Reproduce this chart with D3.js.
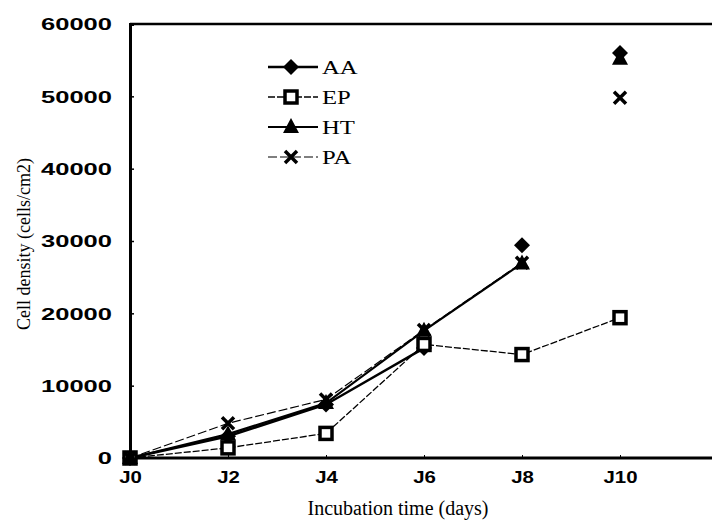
<!DOCTYPE html>
<html lang="en">
<head>
<meta charset="UTF-8">
<title>Cell density</title>
<script src="https://cdn.jsdelivr.net/npm/d3@7"></script>
<style>
  body { margin: 0; background: #fff; }
  .tick text { font-family: "Liberation Sans", Arial, sans-serif; font-weight: bold; font-size: 17px; }
</style>
</head>
<body>
<div id="chart"></div>
<script>
// data
var days = [0, 2, 4, 6, 8, 10];
var xTicks = ["J0", "J2", "J4", "J6", "J8", "J10"];
var yTicks = [0, 10000, 20000, 30000, 40000, 50000, 60000];
var AA = [0, 3000, 7400, 15200, 29400, 56000];
var EP = [0, 1400, 3400, 15700, 14300, 19400];
var HT = [0, 3300, 7600, 17600, 26900, 55200];
var PA = [0, 4800, 8100, 17700, 27000, 49800];
// how many points each line joins (the rest are drawn as lone markers)
var lineTo = { AA: 4, EP: 6, HT: 5, PA: 5 };

var W = 712, H = 522;
var margin = { top: 24, right: -6, bottom: 64, left: 130 };

var svg = d3.select("#chart").append("svg")
  .attr("width", W).attr("height", H);

var x = d3.scaleLinear().domain([0, 12]).range([margin.left, W - margin.right]);
var y = d3.scaleLinear().domain([0, 60000]).range([H - margin.bottom, margin.top]);

// widen text like the scanned original
function stretch(sel, k) {
  sel.each(function() {
    var w = this.getComputedTextLength();
    d3.select(this).attr("textLength", w * k).attr("lengthAdjust", "spacingAndGlyphs");
  });
}

// frame
svg.append("line").attr("x1", x(0)).attr("x2", W).attr("y1", y(60000)).attr("y2", y(60000))
  .attr("stroke", "#000").attr("stroke-width", 2.5);

var yAxis = svg.append("g")
  .attr("transform", "translate(" + x(0) + ",0)")
  .call(d3.axisRight(y).tickValues(yTicks).tickSize(4).tickFormat(d3.format("d")));
yAxis.select(".domain").attr("stroke-width", 3);
yAxis.selectAll(".tick line").attr("stroke-width", 1.5);
yAxis.selectAll(".tick text").attr("x", -18).attr("text-anchor", "end").attr("dy", "0.35em");
stretch(yAxis.selectAll(".tick text"), 1.5);

var xAxis = svg.append("g")
  .attr("transform", "translate(0," + y(0) + ")")
  .call(d3.axisTop(x).tickValues(days).tickSize(3).tickFormat(function(d, i) { return xTicks[i]; }));
xAxis.select(".domain").attr("stroke-width", 3).attr("d", "M" + x(0) + ",0H" + W);
xAxis.selectAll(".tick text").attr("y", 13).attr("dy", "0.71em");
stretch(xAxis.selectAll(".tick text"), 1.2);

svg.append("text")
  .attr("transform", "translate(30," + ((y(0) + y(60000)) / 2 + 3) + ") rotate(-90)")
  .attr("text-anchor", "middle")
  .style("font-family", "'Liberation Serif', 'Times New Roman', serif")
  .style("font-size", "18px")
  .text("Cell density (cells/cm2)");

svg.append("text")
  .attr("x", 398).attr("y", 515)
  .attr("text-anchor", "middle")
  .style("font-family", "'Liberation Serif', 'Times New Roman', serif")
  .style("font-size", "20px")
  .text("Incubation time (days)");

var series = [
  { name: "AA", values: AA, width: 2.5, dash: null, sym: "diamond" },
  { name: "EP", values: EP, width: 1.3, dash: "7,2", sym: "square" },
  { name: "HT", values: HT, width: 2.2, dash: null, sym: "triangle" },
  { name: "PA", values: PA, width: 1.2, dash: "9,3", sym: "cross" }
];

function drawMarker(g, sym, cx, cy) {
  if (sym === "diamond") {
    g.append("path").attr("d", "M" + cx + "," + (cy - 8) + "L" + (cx + 8) + "," + cy + "L" + cx + "," + (cy + 8) + "L" + (cx - 8) + "," + cy + "Z")
      .attr("fill", "#000");
  } else if (sym === "square") {
    g.append("rect").attr("x", cx - 6).attr("y", cy - 6).attr("width", 12).attr("height", 12)
      .attr("fill", "#fff").attr("stroke", "#000").attr("stroke-width", 3.5);
  } else if (sym === "triangle") {
    g.append("path").attr("d", "M" + cx + "," + (cy - 9) + "L" + (cx + 8) + "," + (cy + 6) + "L" + (cx - 8) + "," + (cy + 6) + "Z")
      .attr("fill", "#000");
  } else {
    g.append("path").attr("d", "M" + (cx - 6) + "," + (cy - 6) + "L" + (cx + 6) + "," + (cy + 6) + "M" + (cx + 6) + "," + (cy - 6) + "L" + (cx - 6) + "," + (cy + 6))
      .attr("stroke", "#000").attr("stroke-width", 3.5).attr("fill", "none");
  }
}

var line = d3.line().x(function(d) { return x(d[0]); }).y(function(d) { return y(d[1]); });

series.forEach(function(s) {
  var pts = days.map(function(d, i) { return [d, s.values[i]]; });
  svg.append("path")
    .datum(pts.slice(0, lineTo[s.name]))
    .attr("d", line)
    .attr("fill", "none")
    .attr("stroke", "#000")
    .attr("stroke-width", s.width)
    .attr("stroke-dasharray", s.dash);
});
series.forEach(function(s) {
  var g = svg.append("g");
  days.forEach(function(d, i) { drawMarker(g, s.sym, x(d), y(s.values[i])); });
});

// legend
var leg = svg.append("g");
series.forEach(function(s, i) {
  var ly = 67 + i * 30;
  leg.append("line").attr("x1", 268).attr("x2", 318).attr("y1", ly).attr("y2", ly)
    .attr("stroke", "#000").attr("stroke-width", s.width).attr("stroke-dasharray", s.dash);
  drawMarker(leg, s.sym, 291, ly);
  var t = leg.append("text").attr("x", 322).attr("y", ly).attr("dy", "0.35em")
    .style("font-family", "'Liberation Serif', 'Times New Roman', serif")
    .style("font-size", "19px")
    .text(s.name);
  stretch(t, 1.3);
});
</script>
</body>
</html>
